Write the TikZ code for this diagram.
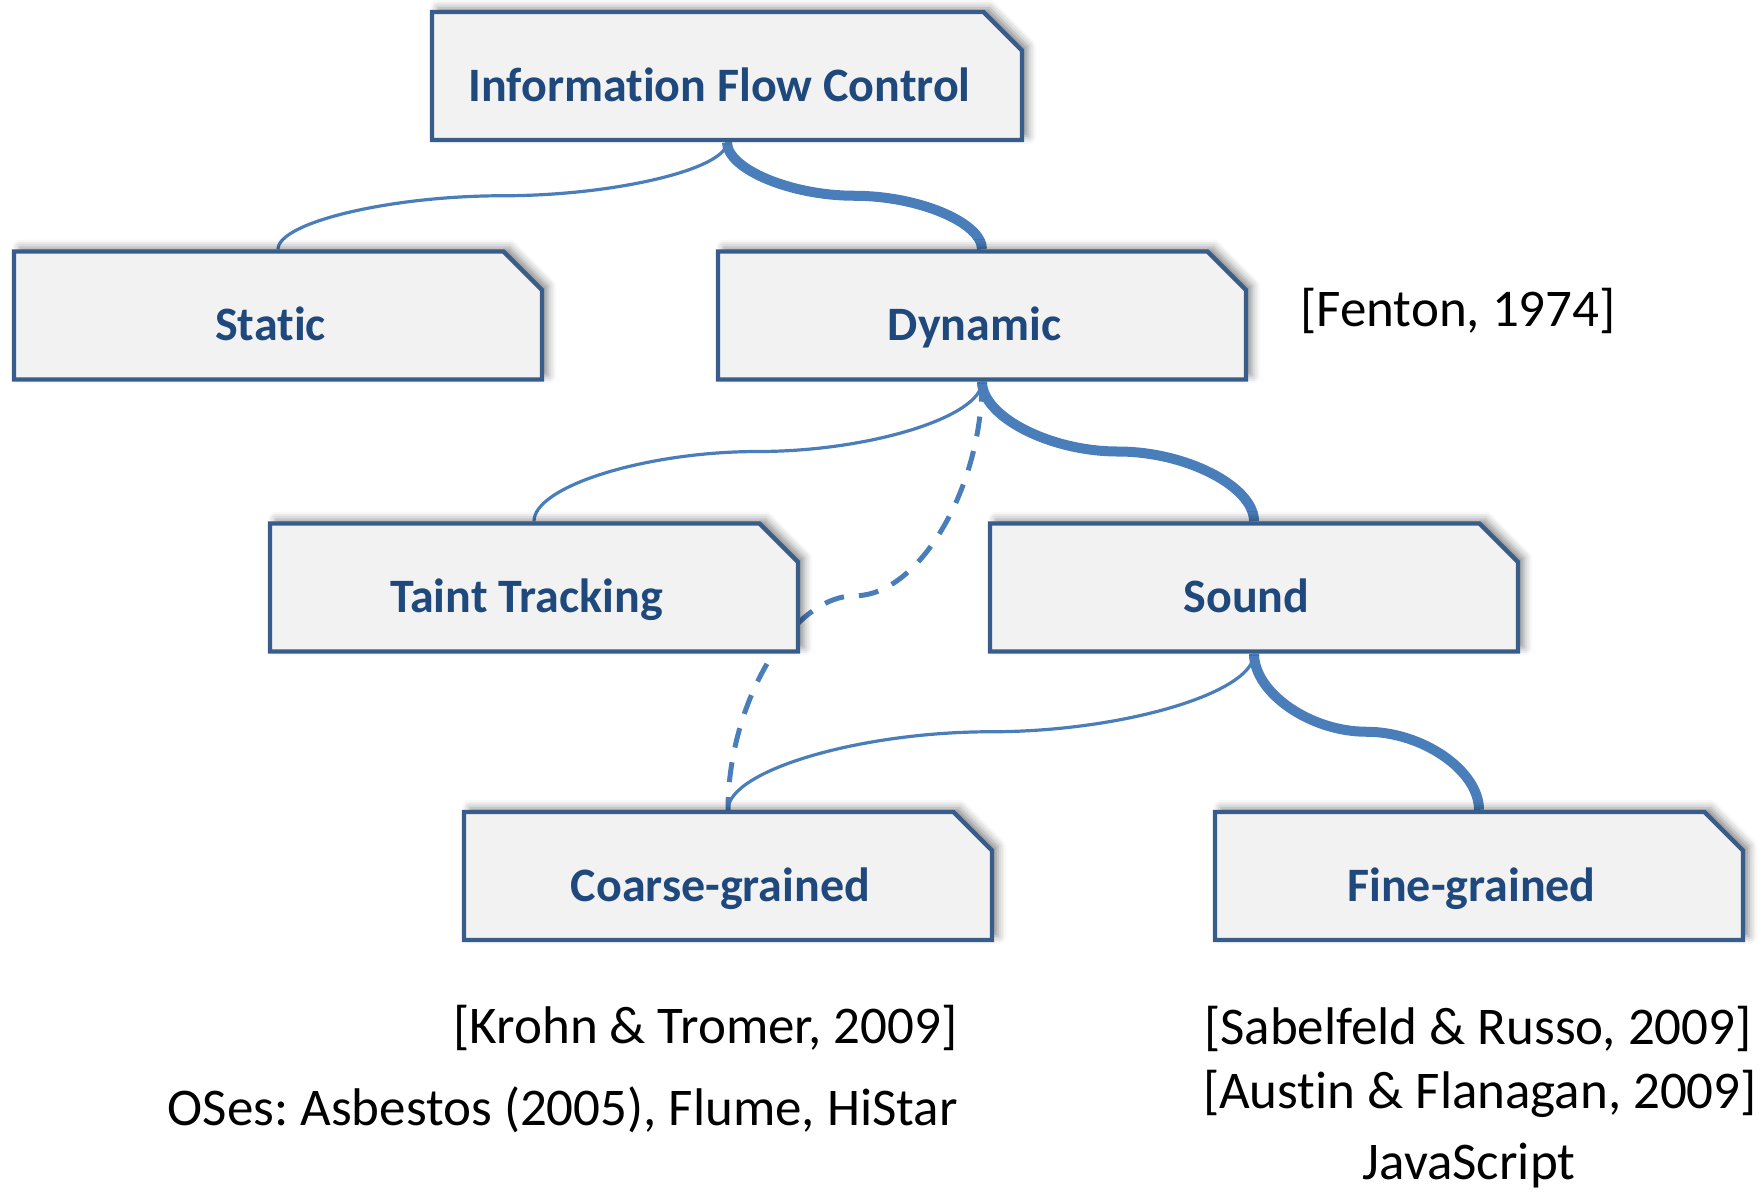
\documentclass[tikz,border=0pt]{standalone}
\usepackage{fontspec}
\setmainfont{Carlito}[Ligatures={NoCommon}]
\frenchspacing
\usetikzlibrary{shapes.misc,shadows.blur,calc}
\definecolor{boxline}{HTML}{385D8A}
\definecolor{boxfill}{HTML}{F2F2F2}
\definecolor{conn}{HTML}{4A7EBB}
\definecolor{boxtext}{HTML}{1F497D}
\pgfdeclarelayer{bg}
\pgfsetlayers{bg,main}
\tikzset{
  tbox/.style={chamfered rectangle, chamfered rectangle corners=north east,
    chamfered rectangle sep=9.6pt, draw=boxline, line width=2.2pt, fill=boxfill,
    minimum width=264pt, minimum height=64pt, inner sep=0pt,
    text height=25pt, text depth=0pt,
    font=\fontsize{24}{28}\selectfont\bfseries, text=boxtext,
    blur shadow={shadow xshift=3pt, shadow yshift=2pt, shadow blur radius=4pt, shadow opacity=45},
    execute at end node={\hspace*{7.5pt}}},
  cite/.style={font=\fontsize{26.5}{30}\selectfont, text=black, inner sep=0pt},
  elbow/.style={to path={let \p1=(\tikztostart), \p2=(\tikztotarget) in
    .. controls (\x1,{0.75*\y1+0.25*\y2}) and ({0.75*\x1+0.25*\x2},{0.5*\y1+0.5*\y2})
    .. ({0.5*\x1+0.5*\x2},{0.5*\y1+0.5*\y2})
    .. controls ({0.25*\x1+0.75*\x2},{0.5*\y1+0.5*\y2}) and (\x2,{0.25*\y1+0.75*\y2})
    .. (\x2,\y2)}},
  lightlink/.style={draw=conn, line width=1.6pt},
  heavylink/.style={draw=conn, line width=5pt},
  dashlink/.style={draw=conn, line width=2.5pt, dash pattern=on 10pt off 7.5pt}
}
\begin{document}
\begin{tikzpicture}[x=0.5pt,y=-0.5pt]
\useasboundingbox (0,0) rectangle (1763,1196);
\node[tbox, minimum width=295pt] (ifc) at (727,76) {Information Flow Control};
\node[tbox] (static) at (278,315.5) {Static};
\node[tbox] (dyn) at (982,315.5) {Dynamic};
\node[tbox] (taint) at (534,587.5) {Taint Tracking};
\node[tbox] (sound) at (1254,587.5) {Sound};
\node[tbox] (coarse) at (728,876) {Coarse-grained};
\node[tbox] (fine) at (1479,876) {Fine-grained};

\node[cite] (fenton) at (1458,311) {[Fenton, 1974]};
\node[cite, anchor=east] (krohn) at (958,1028) {[Krohn \& Tromer, 2009]};
\node[cite, anchor=east] (oses) at (958,1110) {OSes: Asbestos (2005), Flume, HiStar};
\node[cite] (sabel) at (1478,1029) {[Sabelfeld \& Russo, 2009]};
\node[cite] (austin) at (1480,1094) {[Austin \& Flanagan, 2009]};
\node[cite] (js) at (1469,1166) {JavaScript};

\begin{pgfonlayer}{bg}
\draw[lightlink] (ifc.south) to[elbow] (static.north);
\draw[heavylink] (ifc.south) to[elbow] (dyn.north);
\draw[lightlink] (dyn.south) to[elbow] (taint.north);
\draw[heavylink] (dyn.south) to[elbow] (sound.north);
\draw[dashlink] (dyn.south) to[elbow] (coarse.north);
\draw[lightlink] (sound.south) to[elbow] (coarse.north);
\draw[heavylink] (sound.south) to[elbow] (fine.north);
\end{pgfonlayer}
\end{tikzpicture}
\end{document}
